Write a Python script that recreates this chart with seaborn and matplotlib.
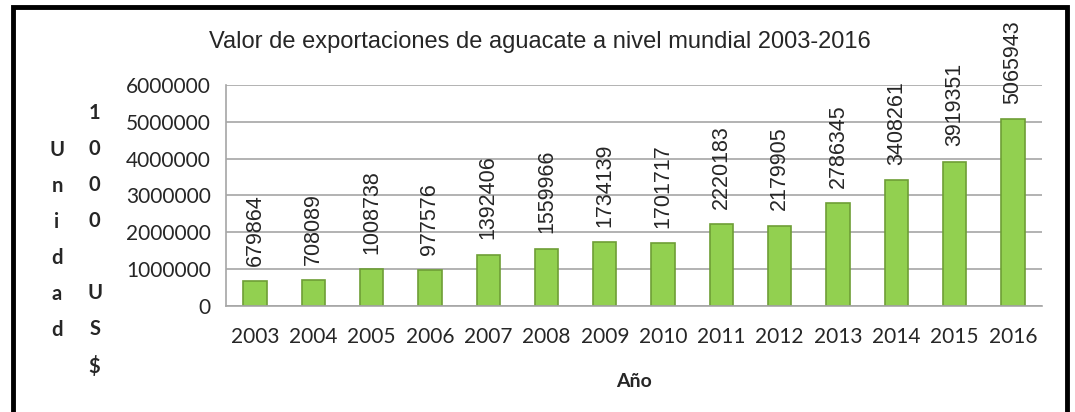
import matplotlib
matplotlib.use("Agg")
import matplotlib.pyplot as plt
import seaborn as sns
import pandas as pd
from matplotlib.patches import Rectangle

years = ["2003", "2004", "2005", "2006", "2007", "2008", "2009",
         "2010", "2011", "2012", "2013", "2014", "2015", "2016"]
values = [679864, 708089, 1008738, 977576, 1392406, 1559966, 1734139,
          1701717, 2220183, 2179905, 2786345, 3408261, 3919351, 5065943]
yticks = [0, 1000000, 2000000, 3000000, 4000000, 5000000, 6000000]

title = "Valor de exportaciones de aguacate a nivel mundial 2003-2016"
xlabel = "Año"
ylabel_a = "Unidad"
ylabel_b = "1000 US$"

df = pd.DataFrame({"year": years, "value": values})

sns.set_style("white")
plt.rcParams["font.family"] = ["Lato", "DejaVu Sans"]

fig = plt.figure(figsize=(10.75, 4.12), dpi=100)
ax = fig.add_axes([0.2102, 0.2573, 0.7591, 0.5364])

sns.barplot(data=df, x="year", y="value", color="#92D050", width=0.4,
            saturation=1, edgecolor="#6E9E36", linewidth=1.2, ax=ax)

ax.set_ylim(0, 6000000)
ax.set_xlim(-0.5, len(years) - 0.5)
ax.set_yticks(yticks)
ax.set_yticklabels([str(t) for t in yticks], fontsize=15)
ax.yaxis.grid(True, color="#A6A6A6", linewidth=1.2)
ax.set_axisbelow(True)
ax.tick_params(axis="y", length=7, color="#A6A6A6", width=1.2, pad=4)

ax.set_xticks(range(len(years)))
ax.set_xticklabels(years, fontsize=15)
ax.set_xticks([i - 0.5 for i in range(len(years) + 1)], minor=True)
ax.tick_params(axis="x", which="major", length=0, pad=15)
ax.tick_params(axis="x", which="minor", length=8, color="#A6A6A6", width=1.2)

for s in ["top", "right"]:
    ax.spines[s].set_visible(False)
for s in ["left", "bottom"]:
    ax.spines[s].set_color("#A6A6A6")
    ax.spines[s].set_linewidth(1.2)

for i, v in enumerate(values):
    ax.annotate(str(v), (i, v), xytext=(0, 11), textcoords="offset points",
                rotation=90, ha="center", va="bottom", fontsize=15.5,
                family="Liberation Sans", clip_on=False)

ax.set_xlabel(xlabel, fontsize=14, fontweight="bold", labelpad=19)
ax.set_ylabel("")

fig.text(0.502, 0.897, title, ha="center", va="center", fontsize=17,
         family="Liberation Sans")
fig.text(0.053, 0.417, "\n".join(ylabel_a), ha="center", va="center",
         fontsize=14.5, fontweight="bold", linespacing=2.0)
fig.text(0.088, 0.417, "\n".join(ylabel_b), ha="center", va="center",
         fontsize=14.5, fontweight="bold", linespacing=2.0)

fig.patches.append(Rectangle((0.0125, -0.05), 0.9805, 1.033, transform=fig.transFigure,
                             fill=False, edgecolor="black", linewidth=3.5))

fig.savefig("out.png", dpi=100)
